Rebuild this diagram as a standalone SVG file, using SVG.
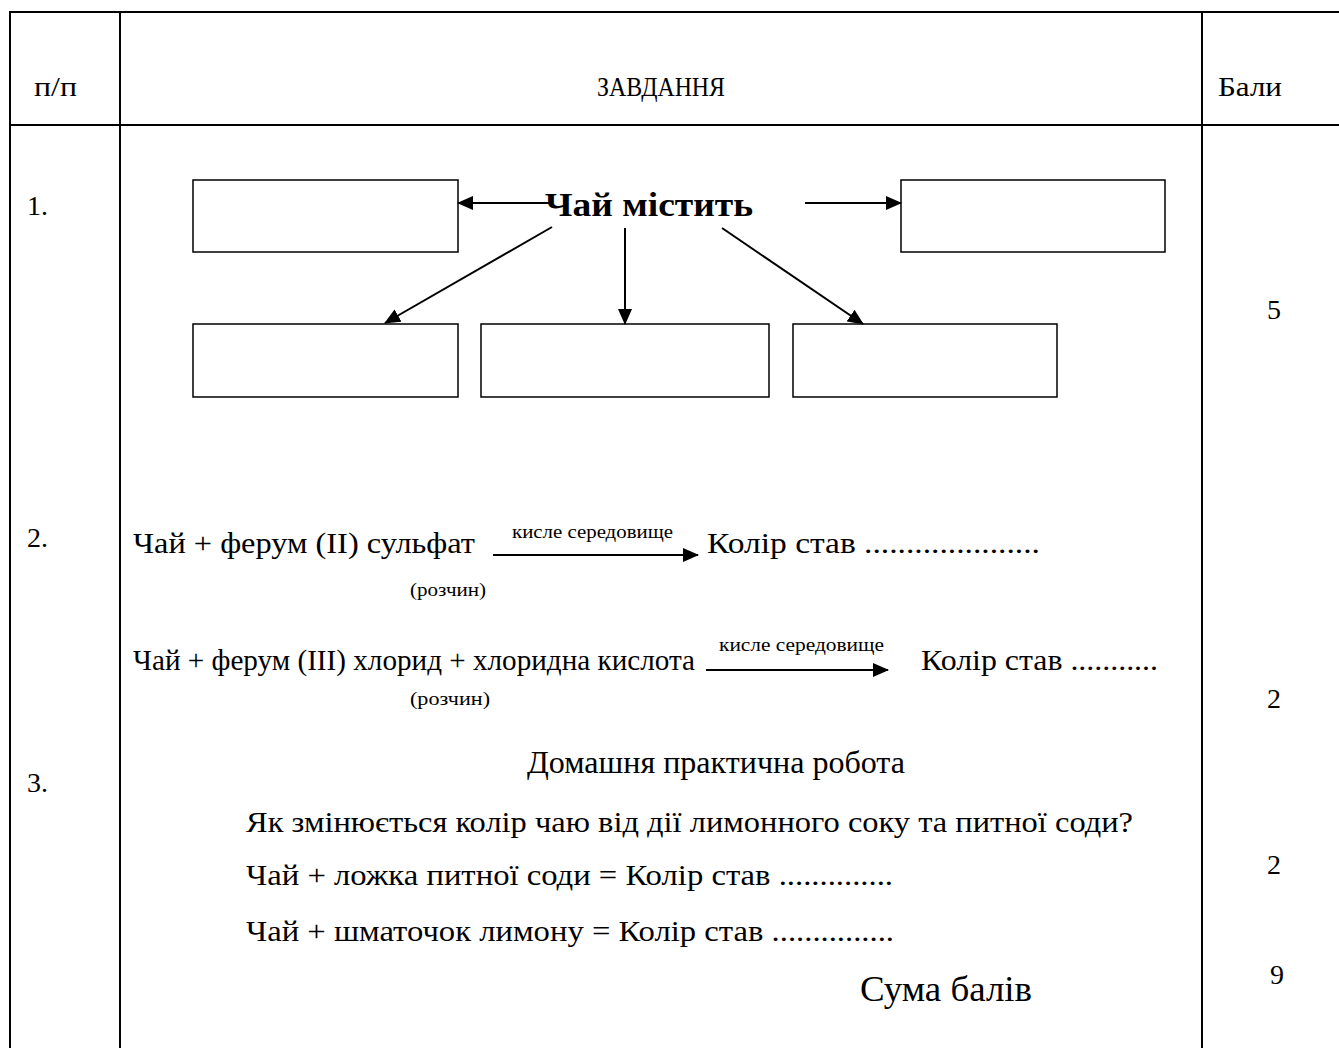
<svg xmlns="http://www.w3.org/2000/svg" width="1339" height="1048" viewBox="0 0 1339 1048">
<style>
.t{font-family:"Liberation Serif","Times New Roman",serif;fill:#000}
.m{font-size:30px}
.h{font-size:28px}
.s{font-size:19px}
.grid{stroke:#000;stroke-width:2;fill:none}
.box{stroke:#000;stroke-width:1.5;fill:#fff}
.ar{stroke:#000;stroke-width:2;fill:none;marker-end:url(#ah)}
</style>
<defs>
<marker id="ah" markerWidth="16" markerHeight="14" refX="15" refY="7" orient="auto" markerUnits="userSpaceOnUse" viewBox="0 0 16 14">
<path d="M0,0 L16,7 L0,14 z" fill="#000"/>
</marker>
</defs>
<rect width="1339" height="1048" fill="#fff"/>
<g id="table">
<line class="grid" x1="9" y1="12" x2="1339" y2="12"/>
<line class="grid" x1="9" y1="125" x2="1339" y2="125"/>
<line class="grid" x1="10" y1="12" x2="10" y2="1048"/>
<line class="grid" x1="120" y1="12" x2="120" y2="1048"/>
<line class="grid" x1="1202" y1="12" x2="1202" y2="1048"/>
<text class="t h" x="34" y="96" textLength="43" lengthAdjust="spacingAndGlyphs">п/п</text>
<text class="t h" x="597" y="96" textLength="128" lengthAdjust="spacingAndGlyphs">ЗАВДАННЯ</text>
<text class="t h" x="1218" y="96" textLength="64" lengthAdjust="spacingAndGlyphs">Бали</text>
<text class="t h" x="27" y="215" textLength="21" lengthAdjust="spacingAndGlyphs">1.</text>
<text class="t h" x="1267" y="319" textLength="14" lengthAdjust="spacingAndGlyphs">5</text>
<text class="t h" x="27" y="547" textLength="21" lengthAdjust="spacingAndGlyphs">2.</text>
<text class="t h" x="1267" y="708" textLength="14" lengthAdjust="spacingAndGlyphs">2</text>
<text class="t h" x="27" y="792" textLength="21" lengthAdjust="spacingAndGlyphs">3.</text>
<text class="t h" x="1267" y="874" textLength="14" lengthAdjust="spacingAndGlyphs">2</text>
<text class="t h" x="1270" y="984" textLength="14" lengthAdjust="spacingAndGlyphs">9</text>
</g>
<g id="center"><text class="t" x="545" y="216" font-size="34" font-weight="bold" textLength="208" lengthAdjust="spacingAndGlyphs">Чай містить</text></g>
<g id="box-tl"><rect class="box" x="193" y="180" width="265" height="72"/></g>
<g id="box-tr"><rect class="box" x="901" y="180" width="264" height="72"/></g>
<g id="box-b1"><rect class="box" x="193" y="324" width="265" height="73"/></g>
<g id="box-b2"><rect class="box" x="481" y="324" width="288" height="73"/></g>
<g id="box-b3"><rect class="box" x="793" y="324" width="264" height="73"/></g>
<g id="connectors">
<line class="ar" x1="550" y1="203" x2="458" y2="203"/>
<line class="ar" x1="805" y1="203" x2="901" y2="203"/>
<line class="ar" x1="552" y1="227" x2="385" y2="323"/>
<line class="ar" x1="625" y1="228" x2="625" y2="324"/>
<line class="ar" x1="722" y1="228" x2="863" y2="324"/>
<line class="ar" x1="493" y1="555" x2="698" y2="555" stroke-width="3"/>
<line class="ar" x1="706" y1="670" x2="888" y2="670" stroke-width="3"/>
</g>
<g id="task2">
<text class="t m" x="133" y="553" textLength="342" lengthAdjust="spacingAndGlyphs">Чай + ферум (ІІ) сульфат</text>
<text class="t s" x="512" y="538" textLength="161" lengthAdjust="spacingAndGlyphs">кисле середовище</text>
<text class="t m" x="707" y="553" textLength="333" lengthAdjust="spacingAndGlyphs">Колір став  .....................</text>
<text class="t s" x="410" y="596" textLength="76" lengthAdjust="spacingAndGlyphs">(розчин)</text>
<text class="t m" x="133" y="670" textLength="562" lengthAdjust="spacingAndGlyphs">Чай + ферум (ІІІ) хлорид + хлоридна кислота</text>
<text class="t s" x="719" y="651" textLength="165" lengthAdjust="spacingAndGlyphs">кисле середовище</text>
<text class="t m" x="921" y="670" textLength="237" lengthAdjust="spacingAndGlyphs">Колір став ...........</text>
<text class="t s" x="410" y="705" textLength="80" lengthAdjust="spacingAndGlyphs">(розчин)</text>
</g>
<g id="task3">
<text class="t" x="527" y="773" font-size="31" textLength="378" lengthAdjust="spacingAndGlyphs">Домашня практична робота</text>
<text class="t m" x="246" y="832" textLength="887" lengthAdjust="spacingAndGlyphs">Як змінюється колір чаю від дії лимонного соку та питної соди?</text>
<text class="t m" x="246" y="885" textLength="647" lengthAdjust="spacingAndGlyphs">Чай + ложка питної соди = Колір став ..............</text>
<text class="t m" x="246" y="941" textLength="648" lengthAdjust="spacingAndGlyphs">Чай + шматочок лимону = Колір став ...............</text>
<text class="t" x="860" y="1001" font-size="36" textLength="172" lengthAdjust="spacingAndGlyphs">Сума балів</text>
</g>
</svg>
